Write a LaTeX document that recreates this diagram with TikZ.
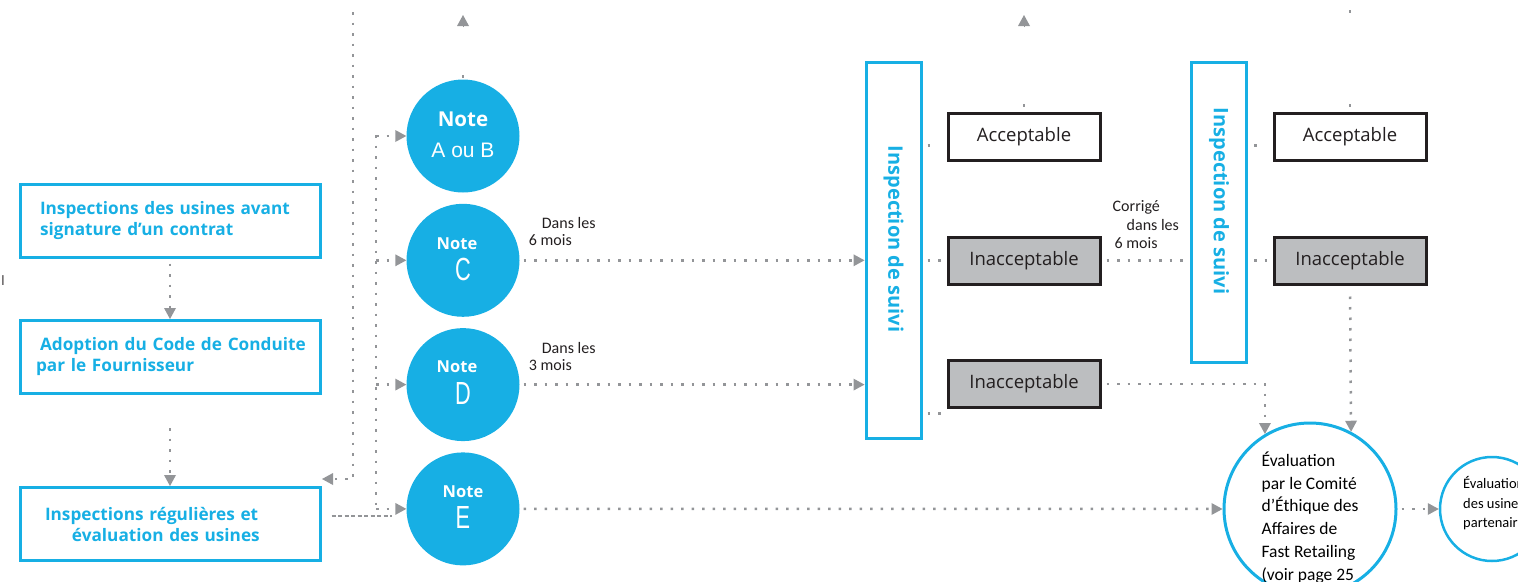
\documentclass[tikz,border=0pt]{standalone}
\usepackage{fontspec}
\setmainfont{Open Sans}
\newfontfamily\calib{Carlito}
\newfontfamily\helv{Liberation Sans}
\usetikzlibrary{arrows.meta, positioning}

\definecolor{frblue}{RGB}{23,175,228}
\definecolor{arrowgray}{RGB}{147,149,152}
\definecolor{boxgray}{RGB}{188,190,192}
\definecolor{boxline}{RGB}{35,31,32}

\begin{document}
\begin{tikzpicture}[x=1pt,y=-1pt,>={Triangle[width=12pt,length=11pt,line width=0pt]},node distance=124.3pt,on grid,
	stepbox/.style={draw=frblue,line width=3pt,minimum height=73pt,text width=280pt,inner xsep=10pt,align=left,text=frblue,font=\fontsize{17.2}{21}\selectfont\bfseries},
	notecirc/.style={circle,fill=frblue,minimum size=113pt,inner sep=0pt},
	notehead/.style={text=white,inner sep=0pt,font=\fontsize{16.5}{16.5}\selectfont\bfseries},
	notegrade/.style={text=white,inner sep=0pt,font=\helv\fontsize{32}{32}\selectfont},
	fubox/.style={draw=frblue,line width=3pt,minimum width=55pt},
	fulabel/.style={rotate=-90,text=frblue,inner sep=0pt,font=\fontsize{20}{20}\selectfont\bfseries},
	resbox/.style={draw=boxline,line width=3pt,fill=white,minimum width=152pt,minimum height=47pt,text=boxline,font=\fontsize{18.5}{18.5}\selectfont},
	badbox/.style={resbox,fill=boxgray},
	evcirc/.style={circle,draw=frblue,line width=3pt,inner sep=0pt},
	evtext/.style={align=left,inner sep=0pt,text=black,font=\calib\fontsize{17.5}{22.7}\selectfont},
	lbl/.style={align=left,inner sep=0pt,text=boxline,font=\calib\fontsize{16}{17}\selectfont}]
	\useasboundingbox (0,0) rectangle (1518,581);

	\node[stepbox] (box1) at (170,220.5) {\hspace*{10pt}Inspections des usines avant\\\hspace*{10pt}signature d’un contrat};
	\node[stepbox] (box2) [below=136.5pt of box1] {\hspace*{10pt}Adoption du Code de Conduite\\\hspace*{6pt}par le Fournisseur};
	\node[stepbox] (box3) [below=167pt of box2] {\hspace*{15pt}Inspections régulières et\\\hspace*{42pt}évaluation des usines};
	\node[inner sep=0pt,text=boxline,font=\fontsize{13}{13}\selectfont] (edgeMark) at (3,281) {l};

	\node[notecirc] (nAB) at (463,136) {};
	\node[notecirc] (nC) [below=of nAB] {};
	\node[notecirc] (nD) [below=of nC] {};
	\node[notecirc] (nE) [below=of nD] {};
	\node[notehead,font=\fontsize{20.5}{20.5}\selectfont\bfseries] (nABhead) at ([yshift=17pt]nAB.center) {Note};
	\node[notegrade,font=\helv\fontsize{21}{21}\selectfont] (nABgrade) at ([yshift=-14pt]nAB.center) {A ou B};
	\node[notehead] (nChead) at ([xshift=-6pt,yshift=17pt]nC.center) {Note};
	\node[notegrade] (nCgrade) at ([yshift=-9pt]nC.center) {\scalebox{0.68}[1]{C}};
	\node[notehead] (nDhead) at ([xshift=-6pt,yshift=18pt]nD.center) {Note};
	\node[notegrade] (nDgrade) at ([yshift=-9pt]nD.center) {\scalebox{0.68}[1]{D}};
	\node[notehead] (nEhead) at ([yshift=17pt]nE.center) {Note};
	\node[notegrade] (nEgrade) at ([yshift=-9pt]nE.center) {\scalebox{0.68}[1]{E}};

	\node[fubox,minimum height=376pt] (fu1) at (893.5,250) {};
	\node[fulabel] (fu1txt) at ([yshift=11pt]fu1.center) {Inspection de suivi};
	\node[fubox,minimum height=300pt] (fu2) at (1219,212) {};
	\node[fulabel] (fu2txt) at ([yshift=11pt]fu2.center) {Inspection de suivi};

	\node[resbox] (acc1) at (1024,136.5) {Acceptable};
	\node[badbox] (bad1) [below=124pt of acc1] {Inacceptable};
	\node[badbox] (bad2) [below=123.5pt of bad1] {Inacceptable};
	\node[resbox] (acc2) at (1350,136.5) {Acceptable};
	\node[badbox] (bad3) [below=124pt of acc2] {Inacceptable};

	\node[evcirc,minimum size=172pt] (ev) at (1310,509) {};
	\node[evtext] (evtxt) at ([yshift=-8.5pt]ev.center) {Évaluation\\par le Comité\\d’Éthique des\\Affaires de\\Fast Retailing\\(voir page 25};
	\node[evcirc,line width=2.5pt,minimum size=104pt] (ev2) at (1492,509) {};
	\node[evtext,anchor=west,font=\calib\fontsize{14.5}{19.5}\selectfont] (ev2txt) at ([xshift=-29pt,yshift=5.5pt]ev2.center) {Évaluation\\des usines\\partenaires};

	\node[lbl,anchor=south west] (lblC) at ([xshift=9pt,yshift=14pt]nC.east) {\hspace*{13pt}Dans les\\6 mois};
	\node[lbl,anchor=south west] (lblD) at ([xshift=9pt,yshift=14pt]nD.east) {\hspace*{13pt}Dans les\\3 mois};
	\node[lbl,anchor=south west,font=\calib\fontsize{16}{18.5}\selectfont] (lblFix) at ([xshift=11pt,yshift=11.5pt]bad1.east) {Corrigé\\\hspace*{14pt}dans les\\\hspace*{2pt}6 mois};

	\tikzset{dotline/.style={draw=arrowgray,line width=2.5pt,dash pattern=on 2.5pt off 8pt}}
	\tikzset{dotarrow/.style={dotline,->}}
	\tikzset{dashline/.style={draw=arrowgray,line width=1.5pt,dash pattern=on 4pt off 2.5pt}}
	\tikzset{tiponly/.style={draw=arrowgray,line width=0.5pt,->}}

	\coordinate (loopTop) at (353,12);
	\coordinate (loopEnd) at (322,479);
	\coordinate (spineTop) at (376,135);
	\coordinate (spineBot) at (376,505);
	\coordinate (abUp) at (463,15);
	\coordinate (accUp) at (1024,15);
	\coordinate (acc2Up) at (1350,10);

	\path (box1) edge [dotarrow,shorten <=5pt] (box2);
	\path (box2) edge [dotarrow,shorten <=33pt] (box3);
	\draw[dotarrow] (loopTop) |- (loopEnd);
	\draw[dotline] (spineTop) -- (spineBot);
	\foreach \n in {nAB,nC,nD,nE}
		\path (spineTop |- \n) edge [dotarrow] (\n);
	\draw[dashline,shorten <=10pt,shorten >=14pt] ([yshift=8pt]box3.east) -- ([yshift=8pt]box3.east -| nE.west);

	\path (nC) edge [dotarrow,shorten <=4pt] (nC -| fu1.west);
	\path (nD) edge [dotarrow,shorten <=4pt] (nD -| fu1.west);
	\path (nE) edge [dotarrow,shorten <=4pt] (ev);
	\path (ev) edge [dotarrow,shorten <=4pt] (ev2);

	\draw[dotline] ([xshift=5pt,yshift=-9pt]fu1.east |- acc1.west) -- ++(7,0);
	\path (fu1.east |- bad1) edge [dotline,shorten <=5pt,shorten >=4pt] (bad1.west);
	\draw[dotline] ([xshift=5pt,yshift=-4.5pt]fu1.east |- bad2.south) -- ++(17,0);
	\path (bad1) edge [dotline,shorten <=5pt,shorten >=5pt] (bad1 -| fu2.west);
	\draw[dotline] ([xshift=6pt,yshift=-9pt]fu2.east |- acc2.west) -- ++(7,0);
	\path (fu2.east |- bad3) edge [dotline,shorten <=6pt,shorten >=4pt] (bad3.west);

	\draw[dotarrow,shorten <=5pt] (bad2.east) -| (ev.121);
	\draw[dotarrow,shorten <=11pt] (bad3.south) -- (ev.62);

	\draw[dotline] ([yshift=1.5pt]nAB.north) -- ++(0,-10);
	\draw[tiponly] ([yshift=-12pt]abUp) -- (abUp);
	\draw[dotline] ([yshift=5pt]acc1.north) -- ++(0,-8);
	\draw[tiponly] ([yshift=-12pt]accUp) -- (accUp);
	\draw[dotline] ([yshift=5pt]acc2.north) -- ++(0,-8);
	\draw[dotline] (acc2Up) -- ++(0,6);
\end{tikzpicture}
\end{document}
